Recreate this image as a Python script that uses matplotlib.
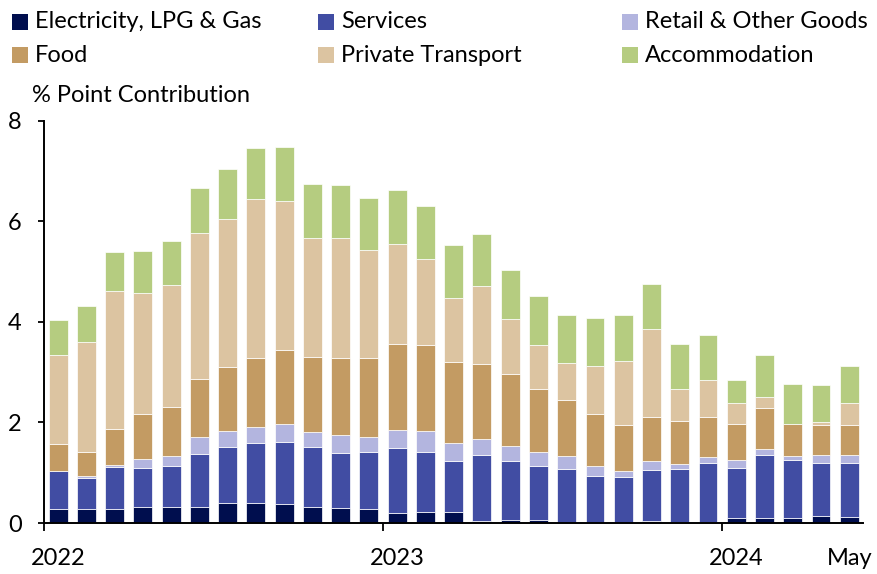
import matplotlib
matplotlib.use("Agg")
import matplotlib.pyplot as plt
from matplotlib.patches import Rectangle
import numpy as np

plt.rcParams['font.family'] = ['Lato', 'DejaVu Sans']

months = ['Jan 22', 'Feb 22', 'Mar 22', 'Apr 22', 'May 22', 'Jun 22', 'Jul 22', 'Aug 22', 'Sep 22', 'Oct 22',
          'Nov 22', 'Dec 22', 'Jan 23', 'Feb 23', 'Mar 23', 'Apr 23', 'May 23', 'Jun 23', 'Jul 23', 'Aug 23',
          'Sep 23', 'Oct 23', 'Nov 23', 'Dec 23', 'Jan 24', 'Feb 24', 'Mar 24', 'Apr 24', 'May 24']

electricity = [0.27, 0.27, 0.28, 0.32, 0.32, 0.32, 0.40, 0.40, 0.38, 0.32, 0.29, 0.28, 0.19, 0.21, 0.21,
               0.03, 0.05, 0.05, -0.03, -0.02, -0.01, 0.04, 0.01, 0.01, 0.09, 0.09, 0.09, 0.13, 0.11]
services = [0.77, 0.63, 0.83, 0.78, 0.82, 1.06, 1.12, 1.20, 1.24, 1.20, 1.11, 1.14, 1.31, 1.21, 1.03,
            1.33, 1.19, 1.09, 1.07, 0.94, 0.92, 1.02, 1.06, 1.18, 1.01, 1.26, 1.16, 1.07, 1.09]
retail = [-0.02, 0.03, 0.04, 0.17, 0.20, 0.33, 0.30, 0.31, 0.35, 0.28, 0.35, 0.29, 0.35, 0.40, 0.35,
          0.31, 0.29, 0.28, 0.26, 0.20, 0.11, 0.17, 0.10, 0.12, 0.15, 0.13, 0.08, 0.15, 0.15]
food = [0.54, 0.49, 0.71, 0.89, 0.96, 1.15, 1.29, 1.38, 1.48, 1.51, 1.54, 1.58, 1.71, 1.71, 1.61,
        1.50, 1.44, 1.24, 1.12, 1.02, 0.91, 0.88, 0.86, 0.79, 0.71, 0.81, 0.63, 0.60, 0.60]
private_transport = [1.77, 2.17, 2.75, 2.42, 2.43, 2.90, 2.93, 3.15, 2.95, 2.36, 2.38, 2.13, 1.98, 1.72, 1.27,
                     1.54, 1.08, 0.87, 0.73, 0.96, 1.28, 1.75, 0.63, 0.74, 0.43, 0.22, -0.03, 0.06, 0.44]
accommodation = [0.69, 0.72, 0.77, 0.83, 0.88, 0.91, 1.00, 1.02, 1.08, 1.07, 1.06, 1.04, 1.09, 1.05, 1.05,
                 1.04, 0.99, 0.98, 0.96, 0.95, 0.92, 0.89, 0.90, 0.90, 0.46, 0.84, 0.80, 0.73, 0.73]

series_names = ['Electricity, LPG & Gas', 'Services', 'Retail & Other Goods',
                'Food', 'Private Transport', 'Accommodation']
series_values = [electricity, services, retail, food, private_transport, accommodation]
colors = ['#000E4E', '#414DA3', '#B3B5DF', '#C39B63', '#DCC4A1', '#B5CC80']

xtick_labels = ['2022', '2023', '2024', 'May']
xtick_months = ['Jan 22', 'Jan 23', 'Jan 24', 'May 24']
year_boundaries = [-0.5, 11.5, 23.5]

W, H = 877, 574
fig = plt.figure(figsize=(W / 100, H / 100), dpi=100)

def fx(px):
    return px / W

def fy(py):
    return 1 - py / H

ax_left, ax_right, ax_top, ax_bottom = 44, 863.4, 120.7, 523
ax = fig.add_axes([fx(ax_left), fy(ax_bottom), fx(ax_right - ax_left), (ax_bottom - ax_top) / H])

x = np.arange(len(months))
pos_bottom = np.zeros(len(months))
neg_bottom = np.zeros(len(months))
for name, vals, c in zip(series_names, series_values, colors):
    v = np.array(vals, dtype=float)
    bottom = np.where(v >= 0, pos_bottom, neg_bottom)
    ax.bar(x, v, bottom=bottom, width=0.67, color=c, edgecolor='white', linewidth=0.5, zorder=2)
    pos_bottom = pos_bottom + np.where(v >= 0, v, 0)
    neg_bottom = neg_bottom + np.where(v < 0, v, 0)

ax.set_xlim(-0.5, len(months) - 0.5)
ax.set_ylim(0, 8)
ax.set_yticks([0, 2, 4, 6, 8])
ax.set_yticklabels(['0', '2', '4', '6', '8'])

ax.set_xticks([months.index(m) for m in xtick_months])
ax.set_xticklabels(xtick_labels)
ax.set_xticks(year_boundaries, minor=True)
ax.tick_params(axis='x', which='major', length=0, pad=18, labelsize=17)
ax.tick_params(axis='x', which='minor', length=6, width=1.3, direction='out')
ax.tick_params(axis='y', which='major', length=4, width=1.3, pad=12, labelsize=17)

for s in ['top', 'right']:
    ax.spines[s].set_visible(False)
for s in ['left', 'bottom']:
    ax.spines[s].set_linewidth(1.4)
    ax.spines[s].set_zorder(3)

# legend drawn manually in pixel coordinates
legend_cols = [12, 318, 622]
legend_rows = [21.5, 55]
for i, (name, c) in enumerate(zip(series_names, colors)):
    col = legend_cols[i % 3]
    row = legend_rows[i // 3]
    sq = 16
    fig.add_artist(Rectangle((fx(col), fy(row + sq / 2)), fx(sq), sq / H,
                             transform=fig.transFigure, facecolor=c, edgecolor='none'))
    fig.text(fx(col + 23), fy(row), name, fontsize=17, va='center', ha='left', color='black')

fig.text(fx(32), fy(95), '% Point Contribution', fontsize=17, va='center', ha='left', color='black')

fig.savefig('out.png', dpi=100)
